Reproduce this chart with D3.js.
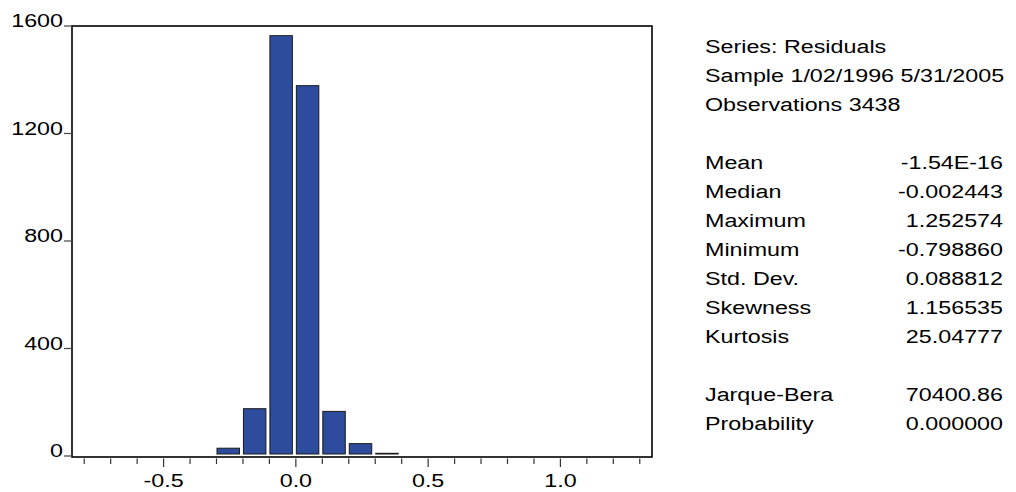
<!DOCTYPE html>
<html>
<head>
<meta charset="utf-8">
<script src="https://cdn.jsdelivr.net/npm/d3@7/dist/d3.min.js"></script>
<style>
  html, body { margin: 0; padding: 0; background: #fff; }
  svg { display: block; }
  text { font-family: "Liberation Sans", Arial, sans-serif; fill: #000; }
</style>
</head>
<body>
<svg id="chart" width="1016" height="492"></svg>
<script>
// ---- data ----
const binStarts = [-0.3, -0.2, -0.1, 0.0, 0.1, 0.2, 0.3];
const binWidth = 0.1;
const counts = [29, 176, 1564, 1378, 166, 46, 10];
const yTicks = [0, 400, 800, 1200, 1600];
const xMajorTicks = [-0.5, 0.0, 0.5, 1.0];
const xMinorTicks = [-0.8, -0.7, -0.6, -0.5, -0.4, -0.3, -0.2, -0.1, 0.0, 0.1, 0.2, 0.3, 0.4, 0.5, 0.6, 0.7, 0.8, 0.9, 1.0, 1.1, 1.2, 1.3];
const headerLines = ["Series: Residuals", "Sample 1/02/1996 5/31/2005", "Observations 3438"];
const statLabels = ["Mean", "Median", "Maximum", "Minimum", "Std. Dev.", "Skewness", "Kurtosis"];
const statValues = ["-1.54E-16", "-0.002443", "1.252574", "-0.798860", "0.088812", "1.156535", "25.04777"];
const testLabels = ["Jarque-Bera", "Probability"];
const testValues = ["70400.86", "0.000000"];

// ---- layout ----
const svg = d3.select("#chart");
const frame = { left: 72, top: 26, right: 652, bottom: 457 };
const x = d3.scaleLinear().domain([-0.85, 1.35]).range([71, 653]);
const y = d3.scaleLinear().domain([0, 1600]).range([456, 26]);
const FS = 18.8, SX = 1.24;
const fmtX = v => d3.format(".1f")(v).replace("\u2212", "-");

function txt(g, tx, ty, s, anchor) {
  g.append("text")
    .attr("transform", `translate(${tx},${ty}) scale(${SX},1)`)
    .attr("text-anchor", anchor)
    .style("font-size", FS + "px")
    .text(s);
}

// bars
svg.append("g").selectAll("rect")
  .data(binStarts.map((b, i) => ({ b, c: counts[i] })))
  .join("rect")
  .attr("x", d => x(d.b) + 0.5)
  .attr("width", d => x(d.b + binWidth) - x(d.b) - 4)
  .attr("y", d => y(d.c))
  .attr("height", d => Math.max(0.3, y(0) - 2 - y(d.c)))
  .attr("fill", "#2E4C9E")
  .attr("stroke", "#1a1a1a")
  .attr("stroke-width", 1);

// frame
svg.append("rect")
  .attr("x", frame.left).attr("y", frame.top)
  .attr("width", frame.right - frame.left).attr("height", frame.bottom - frame.top)
  .attr("fill", "none").attr("stroke", "#000").attr("stroke-width", 1.6);

// y ticks and labels
const gy = svg.append("g");
yTicks.forEach(v => {
  gy.append("line").attr("x1", 64).attr("x2", frame.left)
    .attr("y1", y(v)).attr("y2", y(v)).attr("stroke", "#444").attr("stroke-width", 1.2);
  txt(gy, 63, y(v) + 1, String(v), "end");
});

// x ticks and labels
const gx = svg.append("g");
xMinorTicks.forEach(v => {
  const major = xMajorTicks.some(m => Math.abs(m - v) < 1e-9);
  gx.append("line").attr("x1", x(v)).attr("x2", x(v))
    .attr("y1", frame.bottom + 1.5).attr("y2", frame.bottom + (major ? 10 : 7))
    .attr("stroke", "#333").attr("stroke-width", 1.2);
});
xMajorTicks.forEach(v => {
  txt(gx, x(v), 487, fmtX(v), "middle");
});

// stats panel
const gp = svg.append("g");
const L = 705, R = 1003, base = 53, step = 29;
headerLines.forEach((s, i) => txt(gp, L, base + i * step, s, "start"));
statLabels.forEach((s, i) => {
  txt(gp, L, base + (4 + i) * step, s, "start");
  txt(gp, R, base + (4 + i) * step, statValues[i], "end");
});
testLabels.forEach((s, i) => {
  txt(gp, L, base + (12 + i) * step, s, "start");
  txt(gp, R, base + (12 + i) * step, testValues[i], "end");
});
</script>
</body>
</html>
